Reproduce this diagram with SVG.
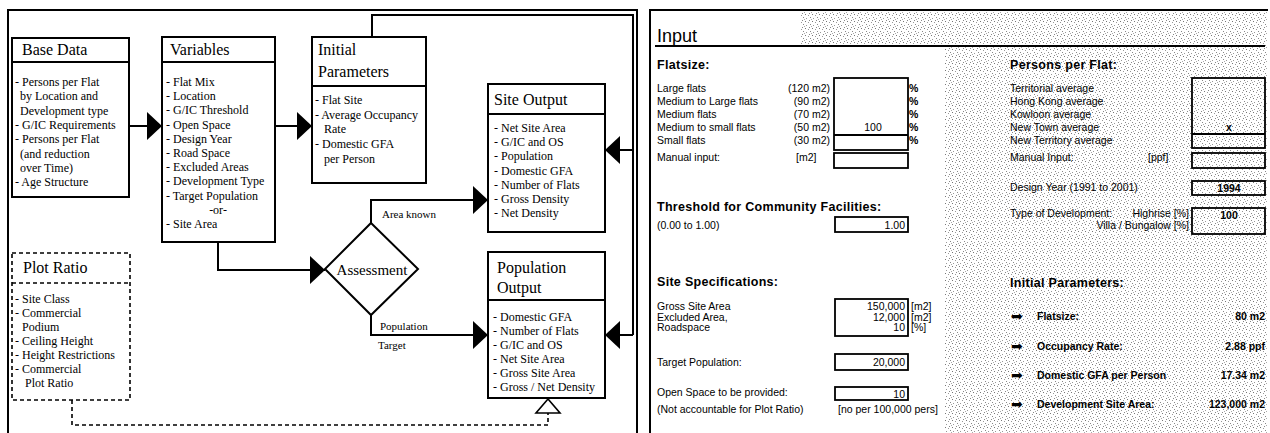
<svg xmlns="http://www.w3.org/2000/svg" width="1270" height="433" viewBox="0 0 1270 433">
<style>
.frame{fill:none;stroke:#000;stroke-width:2}
.box{fill:#fff;stroke:#000;stroke-width:2}
.dbox{fill:#fff;stroke:#000;stroke-width:1.6;stroke-dasharray:4 3}
.hdr{font-family:"Liberation Serif",serif;font-size:16px;fill:#000}
.itm{font-family:"Liberation Serif",serif;font-size:12px;fill:#000}
.lbl{font-family:"Liberation Serif",serif;font-size:11px;fill:#000}
.con{fill:none;stroke:#000;stroke-width:2}
.dash{fill:none;stroke:#000;stroke-width:1.6;stroke-dasharray:4 3}
.f{font-family:"Liberation Sans",Arial,sans-serif;font-size:10.5px;fill:#000}
.fb{font-family:"Liberation Sans",Arial,sans-serif;font-size:12.5px;font-weight:bold;letter-spacing:0.3px;fill:#000}
.fv{font-family:"Liberation Sans",Arial,sans-serif;font-size:10.5px;font-weight:bold;fill:#000}
.ar{font-family:"DejaVu Sans",sans-serif;font-size:14px;fill:#000}
.in{fill:#fff;stroke:#000;stroke-width:1.8}
.ins{fill:none;stroke:#000;stroke-width:1.8}
</style>
<defs>
<marker id="ah" markerUnits="userSpaceOnUse" markerWidth="15" markerHeight="28" refX="15" refY="14" orient="auto">
<path d="M0,0 L15,14 L0,28 Z" fill="#000"/>
</marker>
<pattern id="st" width="7" height="7" patternUnits="userSpaceOnUse">
<rect x="0" y="0" width="1" height="1" fill="#777"/>
<rect x="3" y="1" width="1" height="1" fill="#999"/>
<rect x="5" y="3" width="1" height="1" fill="#888"/>
<rect x="1" y="4" width="1" height="1" fill="#999"/>
<rect x="4" y="6" width="1" height="1" fill="#888"/>
<rect x="6" y="5" width="1" height="1" fill="#aaa"/>
</pattern>
</defs>
<rect x="0" y="0" width="1270" height="433" fill="#fff"/>

<!-- Left panel frame -->
<path class="frame" d="M8,433 V10 H637 V433"/>

<!-- Connectors -->
<g id="connectors">
<line class="con" x1="129" y1="126" x2="162" y2="126" marker-end="url(#ah)"/>
<line class="con" x1="275" y1="126" x2="312" y2="126" marker-end="url(#ah)"/>
<path class="con" d="M218,242 V270 H325" marker-end="url(#ah)"/>
<path class="con" d="M371,223 V200 H488" marker-end="url(#ah)"/>
<path class="con" d="M371,315 V335 H488" marker-end="url(#ah)"/>
<path class="con" d="M372,37 V15 H633 V335"/>
<line class="con" x1="633" y1="150" x2="605" y2="150" marker-end="url(#ah)"/>
<line class="con" x1="633" y1="335" x2="605" y2="335" marker-end="url(#ah)"/>
<path class="dash" d="M72,400 V425 H548 V413"/>
<polygon points="548,399 536,413 560,413" fill="#fff" stroke="#000" stroke-width="1.6"/>
<text class="lbl" x="382" y="218">Area known</text>
<text class="lbl" x="380" y="330">Population</text>
<text class="lbl" x="378" y="349">Target</text>
</g>

<!-- Base Data -->
<g id="base-data">
<rect class="box" x="12" y="38" width="117" height="159"/>
<line class="frame" x1="12" y1="62" x2="129" y2="62"/>
<text class="hdr" x="22" y="55">Base Data</text>
<text class="itm" x="15" y="86">- Persons per Flat</text>
<text class="itm" x="20" y="100.3">by Location and</text>
<text class="itm" x="20" y="114.6">Development type</text>
<text class="itm" x="15" y="128.9">- G/IC Requirements</text>
<text class="itm" x="15" y="143.2">- Persons per Flat</text>
<text class="itm" x="20" y="157.5">(and  reduction</text>
<text class="itm" x="20" y="171.8">over Time)</text>
<text class="itm" x="15" y="186.1">- Age Structure</text>
</g>

<!-- Variables -->
<g id="variables">
<rect class="box" x="162" y="37" width="113" height="205"/>
<line class="frame" x1="162" y1="62" x2="275" y2="62"/>
<text class="hdr" x="170" y="55">Variables</text>
<text class="itm" x="166" y="86">- Flat Mix</text>
<text class="itm" x="166" y="100.2">- Location</text>
<text class="itm" x="166" y="114.4">- G/IC Threshold</text>
<text class="itm" x="166" y="128.6">- Open Space</text>
<text class="itm" x="166" y="142.8">- Design Year</text>
<text class="itm" x="166" y="157">- Road Space</text>
<text class="itm" x="166" y="171.2">- Excluded Areas</text>
<text class="itm" x="166" y="185.4">- Development Type</text>
<text class="itm" x="166" y="199.6">- Target Population</text>
<text class="itm" x="218" y="213.8" text-anchor="middle">-or-</text>
<text class="itm" x="166" y="228">- Site Area</text>
</g>

<!-- Initial Parameters -->
<g id="initial-parameters">
<rect class="box" x="312" y="37" width="114" height="146"/>
<line class="frame" x1="312" y1="86" x2="426" y2="86"/>
<text class="hdr" x="318" y="55">Initial</text>
<text class="hdr" x="318" y="77">Parameters</text>
<text class="itm" x="315" y="104">- Flat Site</text>
<text class="itm" x="315" y="118.7">- Average Occupancy</text>
<text class="itm" x="324" y="133.4">Rate</text>
<text class="itm" x="315" y="148.1">- Domestic GFA</text>
<text class="itm" x="324" y="162.8">per Person</text>
</g>

<!-- Site Output -->
<g id="site-output">
<rect class="box" x="488" y="84" width="117" height="148"/>
<line class="frame" x1="488" y1="114" x2="605" y2="114"/>
<text class="hdr" x="494" y="105">Site Output</text>
<text class="itm" x="494" y="132">- Net Site Area</text>
<text class="itm" x="494" y="146.2">- G/IC and OS</text>
<text class="itm" x="494" y="160.4">- Population</text>
<text class="itm" x="494" y="174.6">- Domestic GFA</text>
<text class="itm" x="494" y="188.8">- Number of Flats</text>
<text class="itm" x="494" y="203">- Gross Density</text>
<text class="itm" x="494" y="217.2">- Net Density</text>
</g>

<!-- Assessment -->
<g id="assessment">
<polygon points="371,223 418,269 371,315 325,269" fill="#fff" stroke="#000" stroke-width="2"/>
<text class="hdr" x="372" y="275" text-anchor="middle" style="font-size:15px">Assessment</text>
</g>

<!-- Population Output -->
<g id="population-output">
<rect class="box" x="488" y="252" width="117" height="146"/>
<line class="frame" x1="488" y1="300" x2="605" y2="300"/>
<text class="hdr" x="497" y="273">Population</text>
<text class="hdr" x="497" y="293">Output</text>
<text class="itm" x="493" y="321">- Domestic GFA</text>
<text class="itm" x="493" y="335">- Number of Flats</text>
<text class="itm" x="493" y="349">- G/IC and OS</text>
<text class="itm" x="493" y="363">- Net Site Area</text>
<text class="itm" x="493" y="377">- Gross Site Area</text>
<text class="itm" x="493" y="391">- Gross / Net Density</text>
</g>

<!-- Plot Ratio -->
<g id="plot-ratio">
<rect class="dbox" x="12" y="253" width="118" height="147"/>
<line class="dash" x1="12" y1="283" x2="130" y2="283"/>
<text class="hdr" x="23" y="273">Plot Ratio</text>
<text class="itm" x="15" y="303">- Site Class</text>
<text class="itm" x="15" y="317">- Commercial</text>
<text class="itm" x="22" y="331">Podium</text>
<text class="itm" x="15" y="345">- Ceiling Height</text>
<text class="itm" x="15" y="359">- Height Restrictions</text>
<text class="itm" x="15" y="373">- Commercial</text>
<text class="itm" x="25" y="387">Plot Ratio</text>
</g>

<!-- Right panel: input form -->
<g id="input-form">
<rect x="945" y="12" width="322" height="421" fill="url(#st)"/>
<rect x="800" y="12" width="145" height="32" fill="url(#st)"/>
<path class="frame" d="M650,433 V10 H1268"/>
<line x1="655" y1="46" x2="1265" y2="46" stroke="#000" stroke-width="2.2"/>
<text x="657" y="42" style="font-family:'Liberation Sans',Arial,sans-serif;font-size:18px;fill:#000">Input</text>

<text class="fb" x="657" y="69">Flatsize:</text>
<text class="f" x="657" y="92">Large flats</text>
<text class="f" x="657" y="105">Medium to Large flats</text>
<text class="f" x="657" y="118">Medium flats</text>
<text class="f" x="657" y="131">Medium to small flats</text>
<text class="f" x="657" y="144">Small flats</text>
<text class="f" x="830" y="92" text-anchor="end">(120 m2)</text>
<text class="f" x="830" y="105" text-anchor="end">(90 m2)</text>
<text class="f" x="830" y="118" text-anchor="end">(70 m2)</text>
<text class="f" x="830" y="131" text-anchor="end">(50 m2)</text>
<text class="f" x="830" y="144" text-anchor="end">(30 m2)</text>
<rect class="in" x="834" y="78" width="74" height="72"/>
<line class="ins" x1="834" y1="135" x2="908" y2="135"/>
<text class="f" x="873" y="131" text-anchor="middle">100</text>
<text class="fv" x="909" y="92">%</text>
<text class="fv" x="909" y="105">%</text>
<text class="fv" x="909" y="118">%</text>
<text class="fv" x="909" y="131">%</text>
<text class="fv" x="909" y="144">%</text>
<text class="f" x="657" y="161">Manual input:</text>
<text class="f" x="796" y="161">[m2]</text>
<rect class="in" x="834" y="153" width="74" height="15"/>

<text class="fb" x="657" y="211">Threshold for Community Facilities:</text>
<text class="f" x="657" y="229">(0.00 to 1.00)</text>
<rect class="in" x="835" y="217" width="73" height="15"/>
<text class="f" x="905" y="229" text-anchor="end">1.00</text>

<text class="fb" x="657" y="286">Site Specifications:</text>
<text class="f" x="657" y="310">Gross Site Area</text>
<text class="f" x="657" y="320.5">Excluded Area,</text>
<text class="f" x="657" y="331">Roadspace</text>
<rect class="in" x="835" y="299" width="73" height="37"/>
<text class="f" x="905" y="310" text-anchor="end">150,000</text>
<text class="f" x="905" y="320.5" text-anchor="end">12,000</text>
<text class="f" x="905" y="331" text-anchor="end">10</text>
<text class="f" x="911" y="310">[m2]</text>
<text class="f" x="911" y="320.5">[m2]</text>
<text class="f" x="911" y="331">[%]</text>

<text class="f" x="657" y="366">Target Population:</text>
<rect class="in" x="835" y="354" width="73" height="16"/>
<text class="f" x="905" y="366" text-anchor="end">20,000</text>

<text class="f" x="657" y="396">Open Space to be provided:</text>
<text class="f" x="657" y="413">(Not accountable for Plot Ratio)</text>
<rect class="in" x="835" y="387" width="73" height="13"/>
<text class="f" x="905" y="398" text-anchor="end">10</text>
<text class="f" x="838" y="413">[no per 100,000 pers]</text>

<text class="fb" x="1010" y="69">Persons per Flat:</text>
<text class="f" x="1010" y="92">Territorial average</text>
<text class="f" x="1010" y="105">Hong Kong average</text>
<text class="f" x="1010" y="118">Kowloon average</text>
<text class="f" x="1010" y="131">New Town average</text>
<text class="f" x="1010" y="144">New Territory average</text>
<rect class="ins" x="1192" y="78" width="73" height="70"/>
<line class="ins" x1="1192" y1="134" x2="1265" y2="134"/>
<text class="fv" x="1229" y="131" text-anchor="middle">x</text>
<text class="f" x="1010" y="161">Manual Input:</text>
<text class="f" x="1148" y="161">[ppf]</text>
<rect class="ins" x="1192" y="153" width="73" height="15"/>
<text class="f" x="1010" y="191">Design Year (1991 to 2001)</text>
<rect class="ins" x="1192" y="181" width="73" height="14"/>
<text class="fv" x="1229" y="192" text-anchor="middle">1994</text>
<text class="f" x="1010" y="217">Type of Development:</text>
<text class="f" x="1189" y="217" text-anchor="end">Highrise [%]</text>
<text class="f" x="1189" y="229" text-anchor="end">Villa / Bungalow [%]</text>
<rect class="ins" x="1192" y="208" width="73" height="26"/>
<text class="fv" x="1229" y="219" text-anchor="middle">100</text>

<text class="fb" x="1010" y="287">Initial Parameters:</text>
<text class="ar" x="1011" y="321">➡</text>
<text class="fv" x="1037" y="320">Flatsize:</text>
<text class="fv" x="1265" y="320" text-anchor="end">80 m2</text>
<text class="ar" x="1011" y="351">➡</text>
<text class="fv" x="1037" y="350">Occupancy Rate:</text>
<text class="fv" x="1265" y="350" text-anchor="end">2.88 ppf</text>
<text class="ar" x="1011" y="380">➡</text>
<text class="fv" x="1037" y="379">Domestic GFA per Person</text>
<text class="fv" x="1265" y="379" text-anchor="end">17.34 m2</text>
<text class="ar" x="1011" y="409">➡</text>
<text class="fv" x="1037" y="408">Development Site Area:</text>
<text class="fv" x="1265" y="408" text-anchor="end">123,000 m2</text>
</g>
</svg>
